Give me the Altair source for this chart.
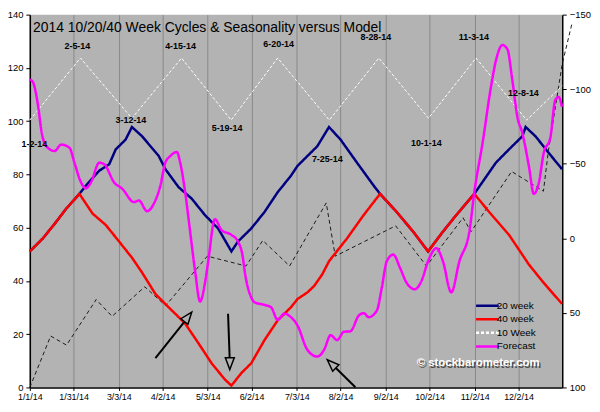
import altair as alt
import pandas as pd

FONT = "Liberation Sans"

# ---------------- data (x = day of 2014, 0 = 1/1/14; y = left-axis value) -------------
x_tick_days = [0, 30, 61, 91, 122, 152, 183, 213, 244, 274, 305, 335]
x_tick_labels = ['1/1/14', '1/31/14', '3/3/14', '4/2/14', '5/3/14', '6/2/14',
                 '7/3/14', '8/2/14', '9/2/14', '10/2/14', '11/2/14', '12/2/14']
left_ticks = [0, 20, 40, 60, 80, 100, 120, 140]
right_ticks = [-150, -100, -50, 0, 50, 100]

series_names = ["20 week", "40 week", "10 Week", "Forecast"]
series_colors = ["#000080", "#ff0000", "#ffffff", "#ff00ff"]

w20_day = [0, 9.0, 18.1, 24.9, 34.0, 38.5, 47.6, 54.4, 58.9, 65.7, 70.0, 77.0, 88.4, 92.9,
           102.0, 111.0, 120.1, 129.1, 138.2, 142.7, 151.8, 160.9, 169.9, 179.0, 183.5,
           197.1, 205.1, 213.0, 224.3, 235.7, 240.1, 251.5, 262.8, 273.0, 283.2, 292.3,
           304.7, 319.5, 328.5, 337.6, 339.9, 346.7, 355.7, 364.8]
w20_val = [51.1, 56.0, 62.2, 67.1, 72.7, 75.8, 81.4, 83.8, 89.4, 93.1, 97.8, 94.3, 86.9, 82.0,
           75.2, 70.9, 64.7, 59.7, 51.1, 54.8, 59.7, 65.9, 73.3, 79.5, 83.2,
           90.6, 97.8, 93.1, 84.4, 75.8, 72.7, 65.9, 58.5, 51.1, 58.5, 64.7,
           72.7, 84.4, 89.4, 94.3, 97.8, 94.3, 88.1, 82.0]

w40_day = [0, 9.0, 18.1, 24.9, 34.0, 43.0, 52.1, 61.2, 70.2, 77.0, 86.1, 95.2, 106.5, 115.6,
           124.6, 133.7, 138.2, 145.0, 151.8, 160.9, 169.9, 179.0, 183.5, 190.3, 194.9,
           200.5, 205.1, 217.5, 228.8, 240.1, 251.5, 262.8, 273.0, 283.2, 292.3, 304.7,
           314.9, 328.5, 342.1, 351.2, 364.8]
w40_val = [51.1, 56.0, 62.2, 67.1, 72.7, 65.3, 61.0, 54.8, 48.6, 43.1, 35.1, 30.1, 24.0, 16.6,
           9.1, 3.0, 0.7, 5.4, 9.1, 17.8, 25.2, 30.1, 33.2, 35.7, 38.1,
           42.5, 47.4, 56.0, 64.7, 72.7, 65.9, 58.5, 51.1, 58.5, 64.7, 72.7,
           65.9, 57.3, 46.2, 40.0, 31.4]

w10_day = [0, 34.7, 70.0, 104.0, 138.0, 169.9, 205.3, 239.3, 273.3, 305.9, 340.6, 365]
w10_val = [100.4, 123.7, 101.1, 123.7, 100.4, 123.7, 100.4, 123.7, 101.1, 123.7, 100.4, 113.3]

model_day = [0, 14.3, 25.2, 45.5, 56.4, 78.8, 93.1, 121.7, 148.2, 159.7, 178.1, 203.2, 209.4,
             250.8, 271.9, 297.0, 302.5, 330.3, 352.1, 355.5, 365.0, 371.8]
model_val = [0, 19.3, 15.9, 33.0, 26.7, 37.8, 30.7, 49.3, 45.6, 55.2, 45.6, 69.3, 49.3,
             60.7, 45.6, 63.7, 58.5, 81.1, 73.7, 88.9, 121.5, 137.0]

fc_day = [0, 2.0, 5.4, 8.2, 11.3, 17.0, 21.5, 27.2, 30.6, 35.1, 38.5, 41.9, 47.6, 51.0, 57.8,
          63.4, 71.4, 74.8, 80.4, 85.0, 89.5, 92.9, 96.3, 100.8, 103.1, 106.5, 109.9, 113.3,
          116.7, 120.3, 122.3, 126.9, 131.4, 138.2, 142.7, 146.1, 147.3, 151.8, 154.1, 160.9,
          165.4, 169.9, 174.5, 179.0, 183.5, 190.3, 197.1, 201.7, 206.2, 210.7, 215.3, 219.8,
          225.5, 228.9, 232.3, 237.9, 241.3, 244.7, 249.2, 253.8, 258.3, 263.9, 268.5, 273.0,
          278.7, 283.2, 288.9, 294.5, 301.3, 304.7, 310.4, 316.1, 319.5, 324.0, 327.4, 330.8,
          334.2, 337.6, 342.1, 345.5, 349.0, 352.3, 356.8, 360.2, 362.5, 364.8]
fc_val = [115.6, 114.8, 106.7, 95.6, 90.6, 88.8, 91.2, 90.0, 84.4, 77.0, 74.8, 77.0, 84.4, 83.8,
          77.0, 74.6, 69.6, 70.2, 66.2, 69.0, 75.8, 84.4, 86.9, 88.4, 84.4, 73.3, 58.5, 43.7,
          32.3, 40.0, 47.4, 63.2, 59.1, 57.3, 54.8, 48.6, 43.7, 33.8, 32.0, 31.0,
          30.1, 25.4, 27.7, 26.4, 23.3, 14.1, 11.6, 14.1, 19.6, 17.8, 20.9, 21.1,
          27.0, 27.9, 26.4, 28.9, 37.5, 47.4, 49.9, 44.9, 39.3, 36.9, 40.0, 47.4,
          52.3, 47.4, 35.7, 47.4, 58.5, 73.3, 91.9, 112.8, 122.7, 128.6, 127.0, 115.3,
          101.7, 95.6, 83.2, 72.7, 77.0, 88.1, 93.7, 107.9, 109.1, 105.4]

ann_text = ["2-5-14", "4-15-14", "6-20-14", "8-28-14", "11-3-14", "1-2-14", "3-12-14",
            "5-19-14", "7-25-14", "10-1-14", "12-8-14"]
ann_day = [32.6, 103.3, 170.6, 237.2, 304.4, 3.1, 69.3, 135.2, 203.9, 271.8, 338.4]
ann_val = [128.1, 128.1, 128.8, 131.5, 131.5, 91.5, 100.4, 97.4, 85.6, 91.9, 110.7]

title_text = "2014 10/20/40 Week Cycles & Seasonality versus Model"
watermark_text = "\u00a9 stockbarometer.com"

arrow_tail_day = [86.1, 135.9, 223.2]
arrow_tail_val = [11.0, 27.7, 0.1]
arrow_base_day = [106.2, 137.0, 209.8]
arrow_base_val = [24.8, 11.1, 7.3]
arrow_tip_day = [111.0, 137.1, 203.9]
arrow_tip_val = [28.3, 6.7, 10.4]
arrow_angle = [38, 180, 314]

# ---------------- chart ----------------
PLOT_BG = "#b3b3b3"

label_expr = ("[" + ",".join("'%s'" % l for l in x_tick_labels) + "][indexof(["
              + ",".join(str(d) for d in x_tick_days) + "], datum.value)]")

x_enc = alt.X("d:Q", scale=alt.Scale(domain=[0, 365], nice=False, zero=False),
              axis=alt.Axis(values=x_tick_days, labelExpr=label_expr, grid=True,
                            gridColor="#8a8a8a", gridWidth=1, title=None, tickSize=3,
                            labelPadding=2, labelFontSize=9, labelFlush=False,
                            labelOverlap=False))
y_enc = alt.Y("v:Q", scale=alt.Scale(domain=[0, 140], nice=False, zero=False),
              axis=alt.Axis(values=left_ticks, grid=False, title=None, tickSize=4,
                            labelPadding=3, labelFontSize=9.5))

def series_df(days, vals, name):
    return pd.DataFrame({"d": days, "v": vals, "series": name})

LEG = dict(orient="none", legendX=454, legendY=286, title=None,
           symbolType="M-1.9,0L1.9,0", symbolSize=144,
           labelFont=FONT, labelFontSize=10, labelColor="black",
           labelOffset=2, padding=0, rowPadding=0.7, symbolStrokeWidth=2.5,
           symbolFillColor="transparent")

color_enc = alt.Color("series:N",
                      scale=alt.Scale(domain=series_names, range=series_colors),
                      legend=alt.Legend(**LEG))
dash_enc = alt.StrokeDash("series:N",
                          scale=alt.Scale(domain=series_names,
                                          range=[[1, 0], [1, 0], [3, 2], [1, 0]]),
                          legend=alt.Legend(**LEG))

def line_layer(df, width, interp="linear"):
    return alt.Chart(df).mark_line(strokeWidth=width, interpolate=interp).encode(
        x=x_enc, y=y_enc, color=color_enc, strokeDash=dash_enc, order="d:Q")

model = alt.Chart(pd.DataFrame({"d": model_day, "v": model_val})).mark_line(
    color="#1a1a1a", strokeWidth=1, strokeDash=[4, 3]).encode(x=x_enc, y=y_enc, order="d:Q")

w10 = line_layer(series_df(w10_day, w10_val, "10 Week"), 1.0)
w20 = line_layer(series_df(w20_day, w20_val, "20 week"), 2.5)
w40 = line_layer(series_df(w40_day, w40_val, "40 week"), 2.5)
fc = line_layer(series_df(fc_day, fc_val, "Forecast"), 2.5, "monotone")

arrow_df = pd.DataFrame({"d": arrow_tail_day, "v": arrow_tail_val,
                         "d2": arrow_base_day, "v2": arrow_base_val,
                         "td": arrow_tip_day, "tv": arrow_tip_val, "ang": arrow_angle})
arrow_shaft = alt.Chart(arrow_df).mark_rule(color="black", strokeWidth=2).encode(
    x=x_enc, y=y_enc, x2="d2:Q", y2="v2:Q")
arrow_head = alt.Chart(arrow_df).mark_point(
    shape="M0,0L-0.45,1.2L0.45,1.2Z", size=400, filled=True, fill=PLOT_BG,
    stroke="black", strokeWidth=1.5, opacity=1).encode(
    x=alt.X("td:Q"), y=alt.Y("tv:Q"), angle=alt.Angle("ang:Q", scale=None))

ann_df = pd.DataFrame({"d": ann_day, "v": ann_val, "t": ann_text})
ann = alt.Chart(ann_df).mark_text(font=FONT, fontSize=9, fontWeight="bold",
                                  color="black", baseline="middle").encode(
    x=x_enc, y=y_enc, text="t:N")

title_df = pd.DataFrame({"d": [2.2], "v": [133.6], "t": [title_text]})
title = alt.Chart(title_df).mark_text(font=FONT, fontSize=14, color="black",
                                      align="left", baseline="alphabetic").encode(
    x=x_enc, y=y_enc, text="t:N")

wm_df = pd.DataFrame({"d": [265.2], "v": [9.0], "t": [watermark_text]})
wm_shadow = alt.Chart(wm_df).mark_text(font=FONT, fontSize=11.5, fontWeight="bold",
                                       color="#2a2a2a", opacity=0.75, align="left",
                                       baseline="middle", dx=1.5, dy=1.5).encode(
    x=x_enc, y=y_enc, text="t:N")
wm = alt.Chart(wm_df).mark_text(font=FONT, fontSize=11.5, fontWeight="bold",
                                color="white", align="left", baseline="middle").encode(
    x=x_enc, y=y_enc, text="t:N")

left_group = alt.layer(model, w10, w20, w40, fc, arrow_shaft, arrow_head, ann, title,
                       wm_shadow, wm)

right_df = pd.DataFrame({"r": [-150, 100]})
right = alt.Chart(right_df).mark_point(opacity=0).encode(
    y=alt.Y("r:Q", scale=alt.Scale(domain=[-150, 100], reverse=True, nice=False, zero=False),
            axis=alt.Axis(orient="right", values=right_ticks, title=None, tickSize=4,
                          labelPadding=3, labelFontSize=9.5, grid=False)))

chart = alt.layer(left_group, right).resolve_scale(y="independent").properties(
    width=537, height=376,
    autosize=alt.AutoSizeParams(type="none"),
    padding={"left": 22, "top": 5, "right": 30, "bottom": 16},
    background="white",
).configure_view(fill=PLOT_BG, stroke=None).configure_axis(
    domainColor="black", tickColor="black", labelColor="black", labelFont=FONT,
    domainWidth=1.5,
)

chart.save("out.html", embed_options={"renderer": "svg", "actions": False})
